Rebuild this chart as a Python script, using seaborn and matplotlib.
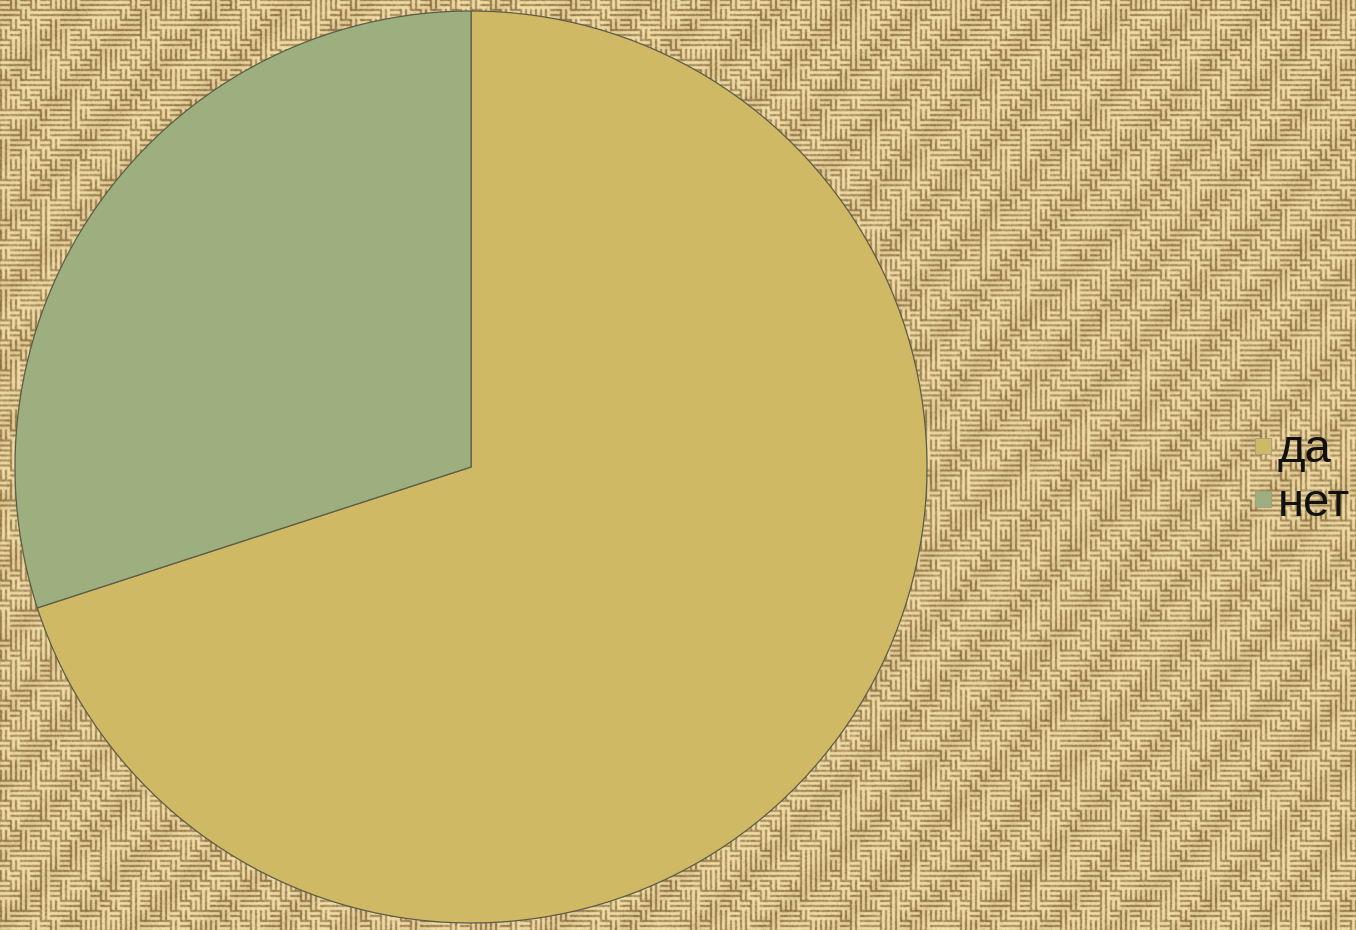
import numpy as np
import matplotlib
matplotlib.use("Agg")
import matplotlib.pyplot as plt
from matplotlib.lines import Line2D
import seaborn as sns

# Survey answers (share of respondents)
labels = ["да", "нет"]
shares = [70, 30]

sns.set_theme(style="white")
plt.rcParams["font.family"] = ["Liberation Sans", "DejaVu Sans"]

colors = ["#cfb964", "#9daf7e"]

W, H = 1356, 930
fig = plt.figure(figsize=(W / 100, H / 100), dpi=100)

# Burlap-like woven backdrop
yy, xx = np.mgrid[0:H, 0:W].astype(float)
cell = 10
ci, cj = yy // cell, xx // cell


def hash2(a, b):
    v = np.sin(a * 12.9898 + b * 78.233) * 43758.5453
    return v - np.floor(v)


h = hash2(ci, cj)
orient = (((ci + cj) % 2) == 0) ^ (h > 0.75)
period = 5
dark_h = (yy % period < 2)
dark_v = (xx % period < 2)
dark = np.where(orient, dark_h, dark_v).astype(float)
fine = hash2(yy * 0.37 + 3.1, xx * 0.53 + 7.7)
dark = dark * (0.55 + 0.45 * fine) + 0.2 * (fine > 0.88)
dark += 0.1 * np.sin((xx + yy) * 0.09)
dark = np.clip(dark, 0, 1)
# soft smoothing of the weave
sm = dark.copy()
for dy, dx in [(0, 1), (0, -1), (1, 0), (-1, 0)]:
    sm += 0.5 * np.roll(np.roll(dark, dy, 0), dx, 1)
dark = sm / 3.0
light_c = np.array([240, 221, 168]) / 255.0
dark_c = np.array([132, 100, 52]) / 255.0
tex = light_c[None, None, :] * (1 - dark[..., None]) + dark_c[None, None, :] * dark[..., None]
tex = np.clip(tex, 0, 1)

bg = fig.add_axes([0, 0, 1, 1], zorder=0)
bg.imshow(tex, aspect="auto", interpolation="bilinear")
bg.set_axis_off()

# Pie
ax = fig.add_axes([15 / W, (H - 923) / H, 912 / W, 912 / H], zorder=1)
wedges, _ = ax.pie(
    shares,
    colors=colors,
    startangle=90,
    counterclock=False,
    radius=1.0,
    wedgeprops=dict(edgecolor="#5e5c48", linewidth=0.9),
)
ax.set_xlim(-1.0, 1.0)
ax.set_ylim(-1.0, 1.0)
ax.set_aspect("equal")
ax.set_axis_off()
ax.patch.set_alpha(0)

handles = [
    Line2D([], [], linestyle="none", marker="s", markersize=12,
           markerfacecolor=c, markeredgecolor="#a09e86", markeredgewidth=0.6)
    for c in colors
]
leg = fig.legend(
    handles,
    labels,
    loc="center left",
    bbox_to_anchor=(1254 / W, 1 - 477 / H),
    frameon=False,
    fontsize=34,
    handlelength=0.38,
    handletextpad=0.12,
    labelspacing=0.2,
    borderaxespad=0,
    borderpad=0,
)
for t in leg.get_texts():
    t.set_color("#111111")

fig.savefig("out.png", dpi=100)
